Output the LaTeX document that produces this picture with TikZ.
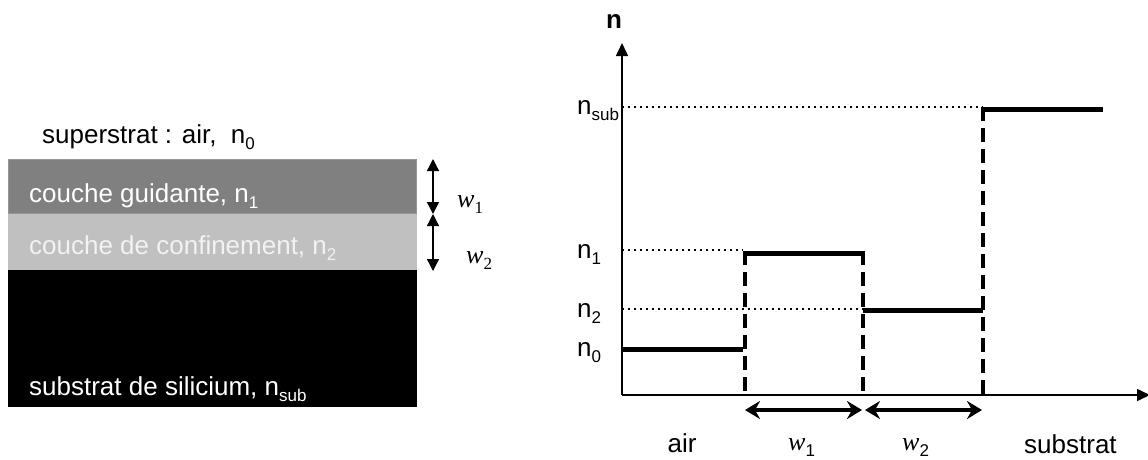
\documentclass[tikz,border=0pt]{standalone}
\usepackage{fontspec}
\setmainfont{Liberation Sans}
\newfontfamily\tms{Liberation Serif}
\usetikzlibrary{arrows.meta}
\newcommand{\sbx}[1]{\raisebox{-6pt}{\fontsize{17}{17}\selectfont #1}}
\definecolor{dgray}{RGB}{128,128,128}
\definecolor{dgedge}{RGB}{150,150,150}
\definecolor{lgray}{RGB}{192,192,192}
\definecolor{ltxt}{RGB}{242,242,242}
\begin{document}
\begin{tikzpicture}[x=1pt,y=-1pt,
  txt/.style={inner sep=0pt, anchor=base west, font=\fontsize{26}{30}\selectfont},
  dimarrow/.style={line width=1.3pt, {Triangle[length=12pt,width=12pt]}-{Triangle[length=12pt,width=12pt]}},
  axisln/.style={line width=1.5pt, -{Triangle[length=13pt,width=12pt]}},
  dotln/.style={line width=2pt, dash pattern=on 2pt off 4pt},
  stepln/.style={line width=5pt},
  dashln/.style={line width=4pt, dash pattern=on 14pt off 7pt},
  widthar/.style={line width=3.5pt, {Stealth[length=15pt,width=18pt,inset=5pt]}-{Stealth[length=15pt,width=18pt,inset=5pt]}}]
\useasboundingbox (0,0) rectangle (1148,459);

% ---- left: layer stack ----
\fill[black] (8,270) rectangle (417,407);
\fill[lgray] (8,214) rectangle (417,270);
\filldraw[fill=dgray, draw=dgedge, line width=1pt] (8.5,159.5) rectangle (416.5,213.5);

\node[txt] (sup) at (42,143) {superstrat : air,~~n\sbx{0}};
\node[txt, text=white] (guid) at (29,202) {couche guidante, n\sbx{1}};
\node[txt, text=ltxt] (conf) at (29,254) {couche de confinement, n\sbx{2}};
\node[txt, text=white] (subs) at (29,395) {substrat de silicium, n\sbx{sub}};

\coordinate (a1t) at (433,159);
\coordinate (a1b) at (433,214);
\coordinate (a2b) at (433,271);
\draw[dimarrow] (a1t) -- (a1b);
\draw[dimarrow] (a1b) -- (a2b);
\node[txt] (lw1) at (457,207) {{\tms\itshape w}\sbx{\tms 1}};
\node[txt] (lw2) at (466,263) {{\tms\itshape w}\sbx{\tms 2}};

% ---- right: index profile ----
\coordinate (O) at (622,395);
\coordinate (ytop) at (622,43);
\coordinate (xend) at (1150,395);
\draw[axisln] (O) -- (ytop);
\draw[axisln] (O) -- (xend);
\node[txt, anchor=base] (ny) at (614,28) {\bfseries n};

\coordinate (ysub) at (622,107);
\coordinate (y1) at (622,250);
\coordinate (y2) at (622,309);
\coordinate (y0) at (622,349);

\coordinate (q1) at (743,250);
\coordinate (q2) at (863,309);
\coordinate (q3) at (983,107);

\coordinate (p0b) at (743,349);
\coordinate (p1a) at (745,253);
\coordinate (p1b) at (863,253);
\coordinate (p2a) at (863,310);
\coordinate (p2b) at (983,310);
\coordinate (p3a) at (983,109);
\coordinate (p3b) at (1103,109);
\coordinate (d1) at (745,251);
\coordinate (d2) at (863,251);
\coordinate (d3) at (983,107);
\coordinate (b1) at (745,395);
\coordinate (b2) at (863,395);
\coordinate (b3) at (983,395);

\draw[dotln] (ysub) -- (q3);
\draw[dotln] (y1) -- (q1);
\draw[dotln] (y2) -- (q2);

\draw[dashln] (d1) -- (b1);
\draw[dashln] (d2) -- (b2);
\draw[dashln] (d3) -- (b3);

\draw[stepln] (y0) -- (p0b);
\draw[stepln] (p1a) -- (p1b);
\draw[stepln] (p2a) -- (p2b);
\draw[stepln] (p3a) -- (p3b);

\node[txt] (lsub) at (577,114) {n\sbx{sub}};
\node[txt] (ln1) at (577,258) {n\sbx{1}};
\node[txt] (ln2) at (577,317) {n\sbx{2}};
\node[txt] (ln0) at (577,356) {n\sbx{0}};

\coordinate (w1a) at (745,410);
\coordinate (w1b) at (862,410);
\coordinate (w2a) at (865,410);
\coordinate (w2b) at (982,410);
\draw[widthar] (w1a) -- (w1b);
\draw[widthar] (w2a) -- (w2b);

\node[txt, anchor=base] (lair) at (682,452) {air};
\node[txt] (rw1) at (788,450) {{\tms\itshape w}\sbx{1}};
\node[txt] (rw2) at (902,450) {{\tms\itshape w}\sbx{2}};
\node[txt] (lsubstrat) at (1024,453) {substrat};
\end{tikzpicture}
\end{document}
